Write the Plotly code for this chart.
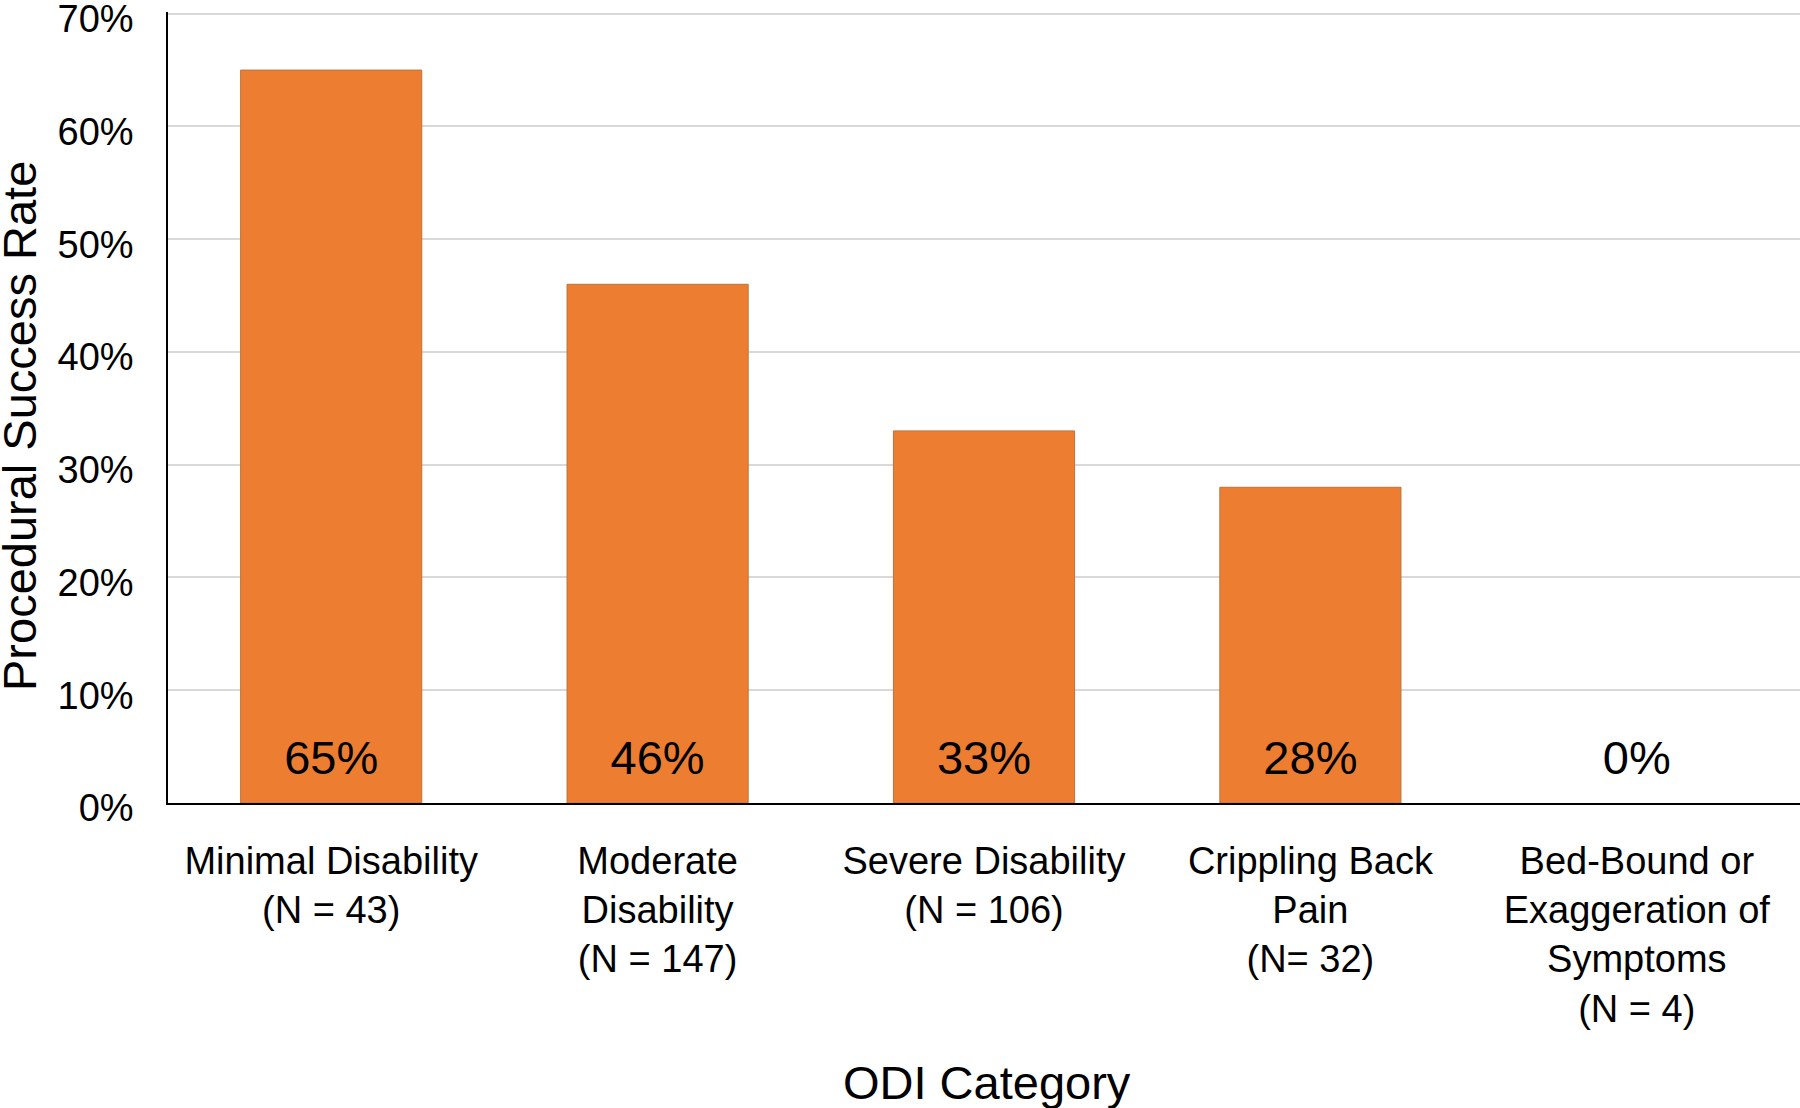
import plotly.graph_objects as go

categories = [
    "Minimal Disability<br>(N = 43)",
    "Moderate<br>Disability<br>(N = 147)",
    "Severe Disability<br>(N = 106)",
    "Crippling Back<br>Pain<br>(N= 32)",
    "Bed-Bound or<br>Exaggeration of<br>Symptoms<br>(N = 4)",
]
success_rate = [0.65, 0.46, 0.33, 0.28, 0.0]
label_y = [0.036, 0.036, 0.036, 0.036, 0.036]
y_ticks = [0, 0.1, 0.2, 0.3, 0.4, 0.5, 0.6, 0.7]
y_tick_labels = ["0%", "10%", "20%", "30%", "40%", "50%", "60%", "70%"]

FONT = "Arial, Liberation Sans, sans-serif"
W, H = 1800, 1108
L, R, T = 168, 0, 12
PLOT_BOTTOM = 803
B = H - PLOT_BOTTOM
PW, PH = W - L - R, PLOT_BOTTOM - T

fig = go.Figure()
fig.add_trace(go.Bar(
    x=categories, y=success_rate,
    marker=dict(color="#ED7D31",
                line=dict(color="#b8753f", width=[1 if v > 0 else 0 for v in success_rate])),
    width=0.555, hoverinfo="skip", showlegend=False,
))
fig.add_trace(go.Scatter(
    x=categories, y=label_y, mode="text",
    text=[f"{round(v*100)}%" for v in success_rate],
    textfont=dict(family=FONT, size=47, color="#000000"),
    textposition="middle center", hoverinfo="skip", showlegend=False,
))

fig.update_layout(
    template="none",
    width=W, height=H,
    margin=dict(l=L, r=R, t=T, b=B, autoexpand=False),
    plot_bgcolor="white", paper_bgcolor="white",
    font=dict(family=FONT, color="#000000"),
    bargap=0.445,
    xaxis=dict(
        automargin=False,
        showgrid=False, showline=True, linecolor="#000000", linewidth=2,
        ticks="", tickfont=dict(family=FONT, size=38, color="#000000"),
        ticklabelstandoff=23, tickangle=0, zeroline=False,
    ),
    yaxis=dict(
        automargin=False,
        range=[0, 0.7015], tickvals=y_ticks, ticktext=y_tick_labels,
        showgrid=True, gridcolor="#d9d9d9", gridwidth=1.5,
        showline=True, linecolor="#000000", linewidth=1.5,
        ticks="", tickfont=dict(family=FONT, size=38, color="#000000"),
        ticklabelstandoff=25, ticklabelshift=5, zeroline=False,
        ticklabeloverflow="allow",
    ),
    annotations=[
        dict(text="Procedural Success Rate", xref="paper", yref="paper",
             x=(19 - L) / PW, y=(PLOT_BOTTOM - 426) / PH,
             xanchor="center", yanchor="middle", textangle=-90, showarrow=False,
             font=dict(family=FONT, size=47, color="#000000")),
        dict(text="ODI Category", xref="paper", yref="paper",
             x=(987 - L) / PW, y=-(1082 - PLOT_BOTTOM) / PH,
             xanchor="center", yanchor="middle", showarrow=False,
             font=dict(family=FONT, size=47, color="#000000")),
    ],
)

fig.write_html("out.html", config={"displayModeBar": False},
               post_script="document.body.style.margin='0';")
